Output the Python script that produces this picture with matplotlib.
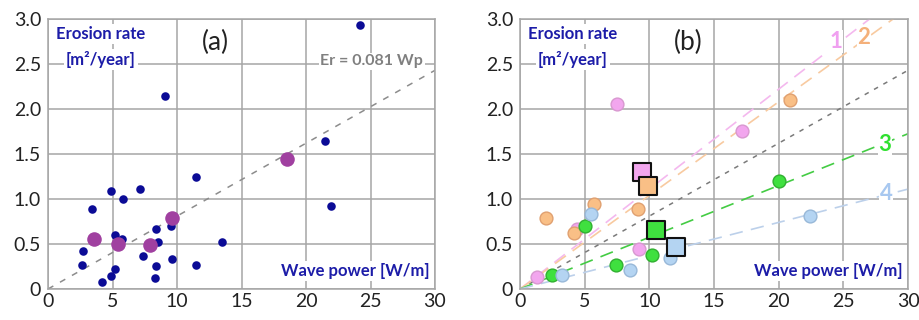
import numpy as np
import matplotlib.pyplot as plt

plt.rcParams['font.family'] = ['Lato', 'DejaVu Sans']

# panel (a): all sites
a_x = [24.2, 9.1, 21.5, 21.9, 11.5, 4.9, 7.1, 5.8, 3.4, 8.4, 9.5, 5.2, 5.7, 8.5, 13.5,
       2.7, 7.4, 9.6, 8.4, 11.5, 2.6, 5.2, 4.9, 8.3, 4.2]
a_y = [2.93, 2.15, 1.64, 0.92, 1.24, 1.09, 1.11, 1.00, 0.89, 0.67, 0.70, 0.60, 0.56, 0.52, 0.52,
       0.42, 0.37, 0.33, 0.26, 0.27, 0.27, 0.22, 0.14, 0.12, 0.08]
a_mean_x = [3.6, 5.4, 7.9, 9.6, 18.5]
a_mean_y = [0.56, 0.50, 0.49, 0.79, 1.44]
slope_all = 0.081

# panel (b): four groups
groups = ['1', '2', '3', '4']
g_face = ['#f2a6ee', '#f9bf86', '#3fe03f', '#b4d4f2']
g_edge = ['#d898d0', '#e0a070', '#30b030', '#98b8d8']
g_line = ['#f4b8ee', '#f8caa0', '#44cc44', '#bcd0ea']
g_text = ['#f0a0f0', '#f4b07a', '#30e030', '#a8c8f0']
g_slope = [0.111, 0.104, 0.0575, 0.037]
g_x = [[1.3, 7.5, 9.2, 17.2, 4.4],
       [2.0, 4.2, 5.7, 9.1, 20.9],
       [2.5, 5.0, 7.4, 10.2, 20.0],
       [3.25, 5.5, 8.5, 11.6, 22.4]]
g_y = [[0.13, 2.06, 0.45, 1.76, 0.67],
       [0.79, 0.62, 0.94, 0.89, 2.10],
       [0.16, 0.70, 0.27, 0.38, 1.20],
       [0.16, 0.83, 0.21, 0.34, 0.81]]
g_mean_x = [9.4, 9.9, 10.5, 12.1]
g_mean_y = [1.30, 1.15, 0.66, 0.47]
g_label_x = [24.4, 26.6, 28.2, 28.3]
g_label_y = [2.75, 2.79, 1.61, 1.06]

x_ticks = [0, 5, 10, 15, 20, 25, 30]
y_ticks = [0, 0.5, 1.0, 1.5, 2.0, 2.5, 3.0]
y_ticklabels = ['0', '0.5', '1.0', '1.5', '2.0', '2.5', '3.0']

blue = '#1c1ca8'
grid_c = '#a6a6a6'

fig = plt.figure(figsize=(9.19, 3.2), dpi=100)
ax1 = fig.add_axes([48 / 919, 31 / 320, 387 / 919, 270 / 320])
ax2 = fig.add_axes([520 / 919, 31 / 320, 388 / 919, 270 / 320])


def style(ax, tag):
    ax.set_xlim(0, 30)
    ax.set_ylim(0, 3.0)
    ax.set_xticks(x_ticks)
    ax.set_yticks(y_ticks)
    ax.set_yticklabels(y_ticklabels)
    ax.grid(True, color=grid_c, lw=1.1, zorder=0)
    ax.set_axisbelow(True)
    for s in ax.spines.values():
        s.set_color(grid_c)
        s.set_linewidth(1.1)
    ax.tick_params(length=0, labelsize=14, pad=3, colors='#222222')
    ax.tick_params(axis='y', pad=5)
    box = dict(facecolor='white', edgecolor='none', pad=1.5)
    ax.text(4.1, 2.83, 'Erosion rate', color=blue, fontsize=12, fontweight='bold',
            ha='center', va='center', bbox=box, zorder=3)
    ax.text(4.1, 2.55, '[m²/year]', color=blue, fontsize=12, fontweight='bold',
            ha='center', va='center', bbox=box, zorder=3)
    ax.text(13.0, 2.74, tag, fontsize=19, ha='center', va='center', color='#222222')
    ax.text(29.6, 0.2, 'Wave power [W/m]', color=blue, fontsize=12, fontweight='bold',
            ha='right', va='center', bbox=box, zorder=3)


xx = np.array([0, 30])

# (a)
style(ax1, '(a)')
ax1.plot(xx, slope_all * xx, color='#8c8c8c', lw=1.1, dashes=(4, 5), zorder=1)
ax1.scatter(a_x, a_y, s=38, color='#0b0b96', zorder=4, linewidths=0)
ax1.scatter(a_mean_x, a_mean_y, s=110, color='#a040a0', zorder=5, linewidths=0)
ax1.text(25.1, 2.53, 'Er = 0.081 Wp', color='#808080', fontsize=11.5, fontweight='bold',
         ha='center', va='center', bbox=dict(facecolor='white', edgecolor='none', pad=1), zorder=3)

# (b)
style(ax2, '(b)')
ax2.plot(xx, slope_all * xx, color='#7a7a7a', lw=1.1, dashes=(3, 4), zorder=1)
for i in range(4):
    ax2.plot(xx, g_slope[i] * xx, color=g_line[i], lw=1.2, dashes=(8, 5), zorder=1)
    ax2.scatter(g_x[i], g_y[i], s=85, color=g_face[i], edgecolors=g_edge[i],
                linewidths=1.0, zorder=4)
    ax2.scatter(g_mean_x[i], g_mean_y[i], s=150, marker='s', color=g_face[i],
                edgecolors='#111111', linewidths=1.5, zorder=5)
    ax2.text(g_label_x[i], g_label_y[i], groups[i], color=g_text[i], fontsize=16,
             fontweight='bold', ha='center', va='center',
             bbox=dict(facecolor='white', edgecolor='none', pad=0.5), zorder=3)

fig.savefig('out.png', dpi=100)
